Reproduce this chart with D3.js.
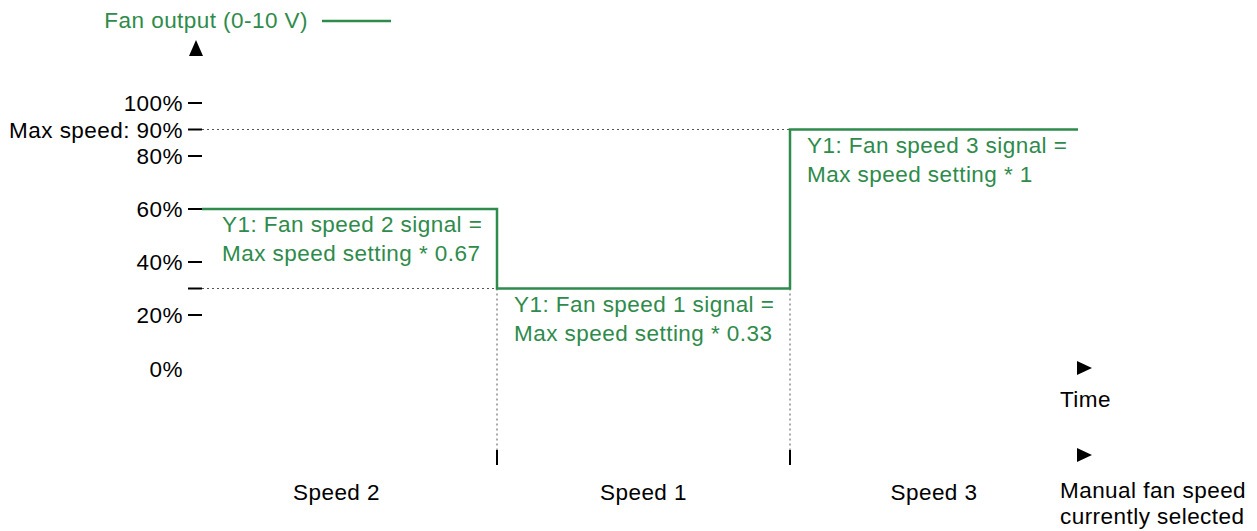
<!DOCTYPE html>
<html>
<head>
<meta charset="utf-8">
<script src="https://cdn.jsdelivr.net/npm/d3@7"></script>
<style>
	body { margin: 0; background: #fff; }
	text { font-family: "Liberation Sans", Arial, sans-serif; letter-spacing: 0.45px; }
</style>
</head>
<body>
<div id="canvas"></div>
<script>
// speed phases along the time axis
var speeds = ["Speed 2", "Speed 1", "Speed 3"];
var levels = [60, 30, 90];          // fan output % for each phase
var phaseEnds = [0, 295, 588, 876]; // phase boundaries in time units
var notes = [
	["Y1: Fan speed 2 signal =", "Max speed setting * 0.67"],
	["Y1: Fan speed 1 signal =", "Max speed setting * 0.33"],
	["Y1: Fan speed 3 signal =", "Max speed setting * 1"]
];
var yTicks = [100, 90, 80, 60, 40, 30, 20];
var yTickLabels = {100: "100%", 90: "Max speed: 90%", 80: "80%", 60: "60%", 40: "40%", 30: "", 20: "20%"};

var GREEN = "#2e8b4b";
var FS = 22.5;
var w = 1257, h = 531;

var svg = d3.select("#canvas")
	.append("svg")
	.attr("width", w)
	.attr("height", h);

var yScale = d3.scaleLinear()
	.domain([0, 100])
	.range([368, 103]);

var xScale = d3.scaleLinear()
	.domain([0, 876])
	.range([202, 1078]);

// y ticks
var yAxis = svg.append("g");
yTicks.forEach(function(t){
	yAxis.append("line")
		.attr("x1", 188).attr("x2", 202)
		.attr("y1", yScale(t)).attr("y2", yScale(t))
		.attr("stroke", "#000").attr("stroke-width", 2);
	yAxis.append("text")
		.attr("x", 183)
		.attr("y", yScale(t) + 8)
		.attr("text-anchor", "end")
		.attr("font-size", FS)
		.attr("fill", "#000")
		.text(yTickLabels[t]);
});
yAxis.append("text")
	.attr("x", 183)
	.attr("y", yScale(0) + 9)
	.attr("text-anchor", "end")
	.attr("font-size", FS)
	.text("0%");

// up arrow
svg.append("path")
	.attr("d", "M196,40 L203,56 L189,56 Z")
	.attr("fill", "#000");

// dotted guides
var dot = "2,3";
svg.append("line")
	.attr("x1", 202).attr("x2", xScale(phaseEnds[2]))
	.attr("y1", yScale(90)).attr("y2", yScale(90))
	.attr("stroke", "#555").attr("stroke-width", 1).attr("stroke-dasharray", dot);
svg.append("line")
	.attr("x1", 202).attr("x2", xScale(phaseEnds[1]))
	.attr("y1", yScale(30)).attr("y2", yScale(30))
	.attr("stroke", "#555").attr("stroke-width", 1).attr("stroke-dasharray", dot);
[phaseEnds[1], phaseEnds[2]].forEach(function(t){
	svg.append("line")
		.attr("x1", xScale(t)).attr("x2", xScale(t))
		.attr("y1", yScale(30)).attr("y2", 455)
		.attr("stroke", "#555").attr("stroke-width", 1).attr("stroke-dasharray", dot);
	svg.append("line")
		.attr("x1", xScale(t)).attr("x2", xScale(t))
		.attr("y1", 450).attr("y2", 465)
		.attr("stroke", "#000").attr("stroke-width", 2);
});

// step line
var pts = [];
levels.forEach(function(v, i){
	pts.push([xScale(phaseEnds[i]), yScale(v)]);
	pts.push([xScale(phaseEnds[i + 1]), yScale(v)]);
});
svg.append("path")
	.attr("d", d3.line()(pts))
	.attr("fill", "none")
	.attr("stroke", GREEN)
	.attr("stroke-width", 2.5);

// annotations
notes.forEach(function(lines, i){
	var x0 = xScale(phaseEnds[i]) + (i === 0 ? 20 : 17);
	var t = svg.append("text")
		.attr("y", yScale(levels[i]) + 23)
		.attr("font-size", FS)
		.attr("fill", GREEN);
	lines.forEach(function(s, j){
		t.append("tspan")
			.attr("x", x0)
			.attr("dy", j === 0 ? 0 : 29)
			.text(s);
	});
});

// speed labels
speeds.forEach(function(s, i){
	var cx = (xScale(phaseEnds[i]) + xScale(phaseEnds[i + 1])) / 2;
	if (i === 0) cx -= 13;
	svg.append("text")
		.attr("x", cx)
		.attr("y", 500)
		.attr("text-anchor", "middle")
		.attr("font-size", FS)
		.text(s);
});

// right arrows and labels
[368, 455].forEach(function(y){
	svg.append("path")
		.attr("d", "M1077," + (y - 7) + " L1092," + y + " L1077," + (y + 7) + " Z")
		.attr("fill", "#000");
});
svg.append("text")
	.attr("x", 1060).attr("y", 407)
	.attr("font-size", FS)
	.text("Time");
var ml = svg.append("text").attr("font-size", FS);
ml.append("tspan").attr("x", 1060).attr("y", 498).text("Manual fan speed");
ml.append("tspan").attr("x", 1060).attr("y", 524).text("currently selected");

// legend
svg.append("text")
	.attr("x", 308).attr("y", 28)
	.attr("text-anchor", "end")
	.attr("font-size", FS)
	.attr("fill", GREEN)
	.text("Fan output (0-10 V)");
svg.append("line")
	.attr("x1", 322).attr("x2", 391)
	.attr("y1", 21).attr("y2", 21)
	.attr("stroke", GREEN).attr("stroke-width", 2.5);
</script>
</body>
</html>
